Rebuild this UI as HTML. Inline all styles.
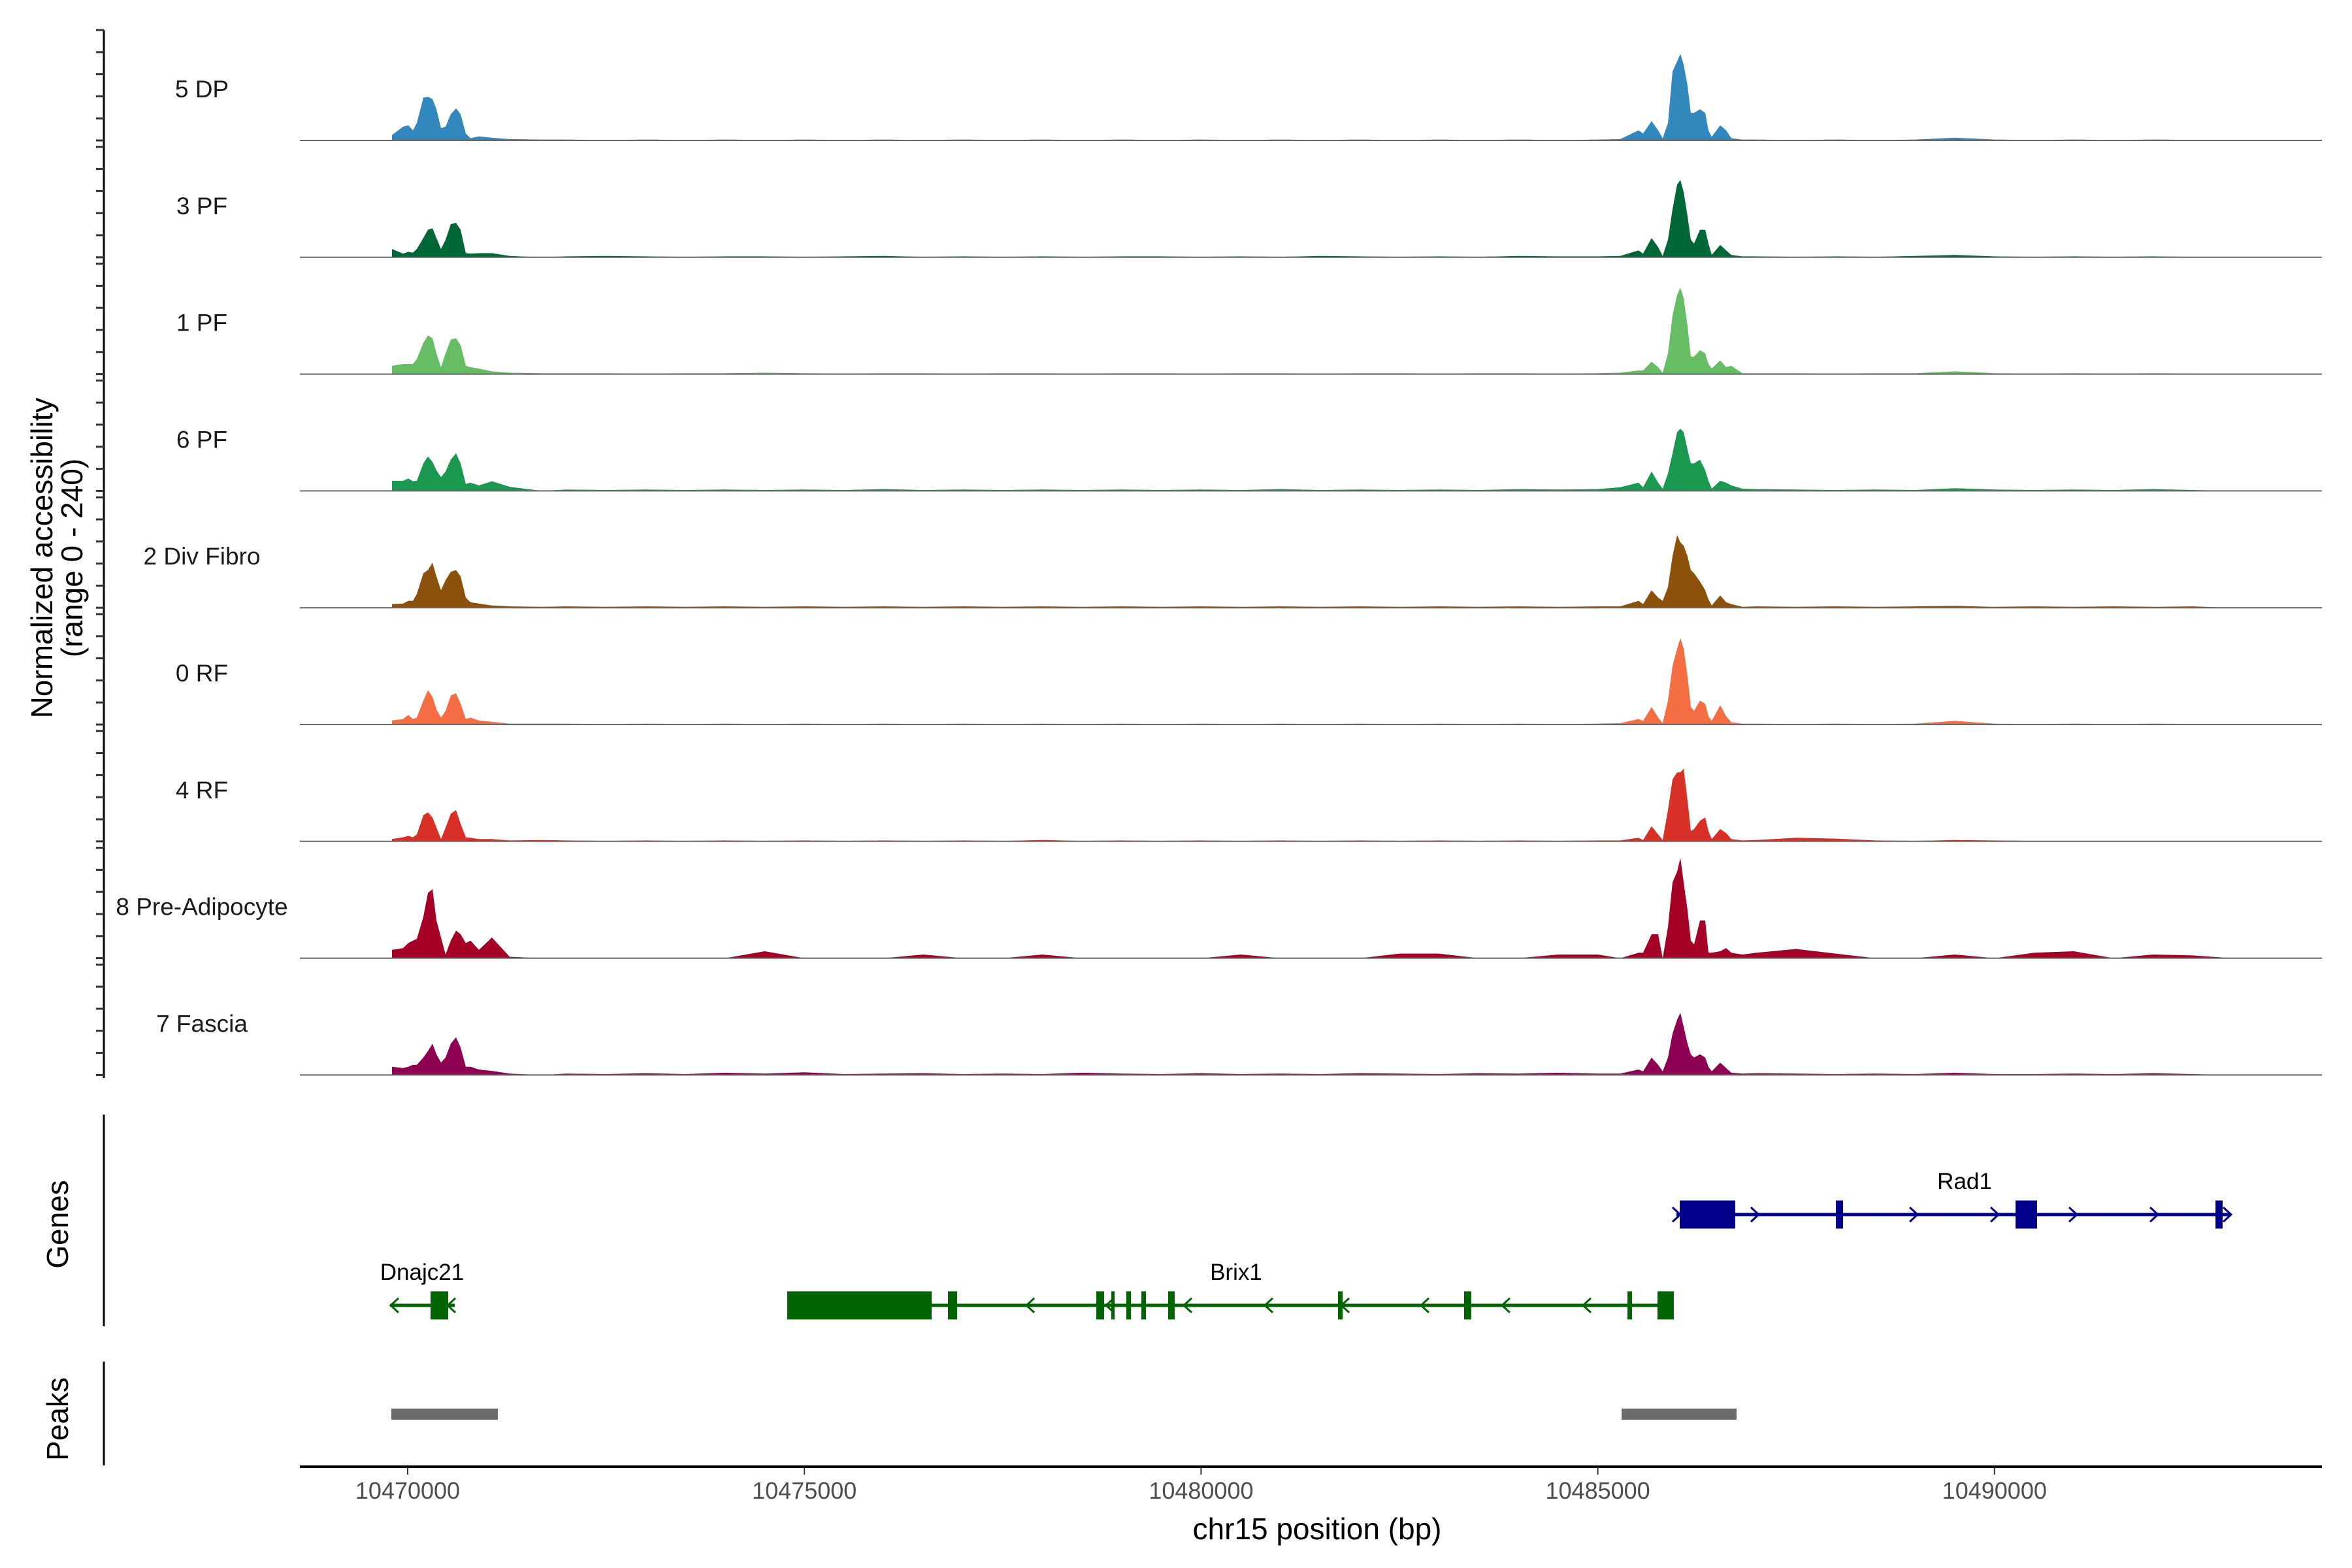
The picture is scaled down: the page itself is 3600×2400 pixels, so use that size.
<!DOCTYPE html>
<html><head><meta charset="utf-8"><style>
html,body{margin:0;padding:0;background:#fff;}
svg{display:block;font-family:"Liberation Sans",sans-serif;}
</style></head><body>
<svg id="chart" width="3600" height="2400" viewBox="0 0 3600 2400" xmlns="http://www.w3.org/2000/svg"></svg>
<script>
const trackNames = ["5 DP","3 PF","1 PF","6 PF","2 Div Fibro","0 RF","4 RF","8 Pre-Adipocyte","7 Fascia"];
const trackColors = ["#3288bd","#006837","#66bd63","#1a9850","#8c510a","#f46d43","#d73027","#a50026","#8e0152"];
const positions = [
10469802,10469942,10470008,10470066,10470115,10470198,10470255,10470313,10470362,10470420,10470478,10470543,10470609,10470667,10470733,10470791,10470898,10471062,10471285,10471696,
10472000,10472500,10473000,10473500,10474000,10474500,10475000,10475500,10476000,10476500,10477000,10477500,10478000,10478500,10479000,10479500,10480000,10480500,10481000,10481500,10482000,10482500,10483000,10483500,10484000,10484500,10485000,
10485283,10485514,10485571,10485678,10485761,10485818,10485884,10485942,10486000,10486041,10486082,10486131,10486173,10486214,10486288,10486354,10486395,10486436,10486543,10486617,10486683,10486823,
10487000,10487500,10488000,10488500,10489000,10489500,10490000,10490500,10491000,10491500,10492000,10492500,10493000];
const mid0 = [2,1,2,1,2,1,2,1,2,1,2,1,2,1,2,1,2,1,2,1,2,1,2,1,2,1,2];
const valsDP = [12,30,33,22,38,93,95,90,68,27,30,57,70,57,15,5,9,6,3,2].concat(mid0,[3,22,15,42,22,5,38,150,172,188,165,120,60,60,68,60,22,8,33,22,5,2],[2,1,2,1,2,6,2,1,2,1,2,1,0]);
const vals3PF = [18,8,12,10,18,42,60,63,42,18,38,72,75,60,9,8,9,9,3,0].concat([2,3,2,1,2,2,1,2,3,1,2,1,2,1,2,2,1,2,1,3,2,1,2,1,3,2,2],[3,15,8,42,22,3,38,105,158,168,142,90,38,30,60,60,30,5,27,15,5,2],[2,1,2,1,3,5,2,1,2,1,2,1,0]);
const vals1PF = [18,22,22,22,33,68,84,78,45,15,45,75,78,63,18,15,12,6,3,2].concat([2,2,1,2,2,3,2,1,2,2,1,2,2,1,2,2,1,2,2,1,2,2,1,2,2,1,2],[3,8,8,27,15,3,45,128,172,188,165,105,38,38,52,45,22,12,30,15,18,2],[2,2,1,2,2,6,2,1,2,1,2,1,0]);
const vals6PF = [22,22,27,21,22,60,75,63,45,30,42,68,82,60,15,18,12,21,9,0].concat([3,2,3,2,3,2,3,2,4,2,3,2,3,2,3,2,3,2,4,2,3,2,3,2,4,3,4],[8,18,8,42,18,5,38,82,128,135,128,90,60,60,68,45,22,5,22,18,12,5],[4,3,2,3,2,6,3,2,3,2,4,2,0]);
const valsDiv = [8,9,15,15,30,75,82,98,68,38,60,78,82,68,22,12,9,5,3,2].concat([3,2,3,2,3,2,3,2,3,2,3,2,3,2,3,2,3,2,3,2,3,2,3,2,3,2,3],[3,15,8,38,22,15,45,112,158,142,135,112,82,75,57,38,18,5,27,12,8,2],[3,2,3,2,3,4,2,3,2,3,2,3,0]);
const vals0RF = [9,12,21,12,15,52,75,60,33,15,30,63,68,45,12,15,9,6,2,2].concat([2,1,2,1,2,1,2,1,2,1,2,1,2,1,2,1,2,1,2,1,2,1,2,1,2,1,2],[3,12,8,38,15,3,52,128,165,188,165,105,38,30,52,45,18,8,42,18,5,2],[2,1,2,1,2,8,2,1,2,1,2,1,0]);
const vals4RF = [5,9,12,9,15,57,63,52,30,5,30,60,68,38,9,8,5,5,2,3].concat([2,1,2,1,2,1,2,1,2,1,2,1,3,1,2,1,2,1,2,1,2,1,2,1,2,1,2],[2,8,3,33,15,3,68,135,150,150,158,90,22,27,45,52,22,5,27,18,5,2],[3,8,6,2,1,3,2,1,1,0,1,0,0]);
const valsPre = [18,22,33,38,42,90,142,150,82,45,8,38,60,52,33,38,18,45,3,0].concat([0,0,0,0,0,15,0,0,0,8,0,0,8,0,0,0,0,8,0,0,0,10,10,0,0,8,8],[0,12,12,52,52,0,68,165,188,218,165,105,38,30,82,82,12,12,15,22,12,8],[12,20,10,0,0,8,0,12,15,0,8,6,0]);
const valsFas = [18,15,18,22,22,38,52,68,45,27,38,68,82,60,18,18,12,9,3,0].concat([3,2,4,2,5,3,6,2,3,4,2,3,2,5,3,2,4,2,3,2,4,3,2,4,3,5,3],[3,12,8,38,22,8,38,90,120,135,105,68,45,38,45,38,18,8,27,15,5,3],[4,3,2,3,2,5,2,2,3,2,4,2,0]);
const trackValues = [valsDP,vals3PF,vals1PF,vals6PF,valsDiv,vals0RF,vals4RF,valsPre,valsFas];
const xTicks = [10470000,10475000,10480000,10485000,10490000];
const xTickLabels = ["10470000","10475000","10480000","10485000","10490000"];
const genes = [
 {name:"Rad1", strand:"+", start:10485991, end:10492974, row:0, labelPos:10489623,
  exons:[[10486033,10486733],[10488001,10488091],[10490265,10490537],[10492785,10492875]],
  arrows:[10485991,10486979,10488981,10490002,10490990,10492011,10492933]},
 {name:"Brix1", strand:"-", start:10474784, end:10485958, row:1, labelPos:10480441,
  exons:[[10474784,10476604],[10476810,10476925],[10478679,10478778],[10478868,10478910],[10479058,10479116],[10479247,10479305],[10479585,10479667],[10481726,10481784],[10483315,10483406],[10485374,10485432],[10485752,10485958]],
  arrows:[10477848,10478852,10479832,10480853,10481817,10482821,10483842,10484863]},
 {name:"Dnajc21", strand:"-", start:10469778, end:10470593, row:1, labelPos:10470181,
  exons:[[10470288,10470511]], arrows:[10469835,10470552]}
];
const peakStarts = [10469794,10485300];
const peakEnds = [10471136,10486749];

const NS="http://www.w3.org/2000/svg";
const svg=document.getElementById('chart');
function el(tag,attrs,parent){const e=document.createElementNS(NS,tag);for(const k in attrs)e.setAttribute(k,attrs[k]);(parent||svg).appendChild(e);return e;}
function xs(bp){return 624+(bp-10470000)*0.12144;}
const base0=215, pitch=178.8, trackH=169, yMax=240;
function ys(v,i){return base0+i*pitch - v/yMax*trackH;}

const yAxis=el('line',{x1:159,y1:46,x2:159,y2:1650,stroke:"#000","stroke-width":3});


for(let i=0;i<trackNames.length;i++){
  const b=base0+i*pitch;
  for(let k=0;k<=5;k++){
    const ty=b-trackH+k*trackH/5;
    const t=el('line',{x1:147,y1:ty,x2:159,y2:ty,stroke:"#333","stroke-width":3});
    
    
  }
  const vals=trackValues[i];
  let d="M"+xs(positions[0]).toFixed(1)+","+b;
  for(let j=0;j<positions.length;j++){d+=" L"+xs(positions[j]).toFixed(1)+","+ys(vals[j],i).toFixed(1);}
  d+=" L"+xs(positions[positions.length-1]).toFixed(1)+","+b+" Z";
  const a=el('path',{d:d,fill:trackColors[i]});
  
  
  const bl=el('line',{x1:459,y1:b,x2:3554,y2:b,stroke:"#666","stroke-width":2});
  
  
  const lab=el('text',{x:309,y:b-66,"text-anchor":"middle","font-size":37,fill:"#1a1a1a"});
  lab.textContent=trackNames[i];
  
  
}
const yt=el('text',{transform:"translate(80,854) rotate(-90)","text-anchor":"middle","font-size":46,fill:"#000"});


const ts1=el('tspan',{x:0,dy:0},yt);ts1.textContent="Normalized accessibility";
const ts2=el('tspan',{x:0,dy:46},yt);ts2.textContent="(range 0 - 240)";

const gl=el('line',{x1:159,y1:1706,x2:159,y2:2030,stroke:"#000","stroke-width":3});


const gt=el('text',{transform:"translate(104,1874) rotate(-90)","text-anchor":"middle","font-size":46,fill:"#000"});
gt.textContent="Genes";


const rowY=[1859,1998];
genes.forEach(g=>{
  const col=g.strand==="+"?"#00008b":"#006400";
  const y=rowY[g.row];
  const grp=el('g',{});
  
  
  el('line',{x1:xs(g.start),y1:y,x2:xs(g.end),y2:y,stroke:col,"stroke-width":5},grp);
  g.exons.forEach(ex=>{el('rect',{x:xs(ex[0]),y:y-21.5,width:Math.max(xs(ex[1])-xs(ex[0]),4),height:43,fill:col},grp);});
  g.arrows.forEach(p=>{const x=xs(p);const dx=g.strand==="+"?-6:6;
    el('polyline',{points:(x+dx)+","+(y-11)+" "+(x-dx)+","+y+" "+(x+dx)+","+(y+11),fill:"none",stroke:col,"stroke-width":3},grp);});
  const t=el('text',{x:xs(g.labelPos),y:y-39,"text-anchor":"middle","font-size":35,fill:"#000"},grp);
  t.textContent=g.name;
});

const pl=el('line',{x1:159,y1:2084,x2:159,y2:2243,stroke:"#000","stroke-width":3});


const pt=el('text',{transform:"translate(104,2172) rotate(-90)","text-anchor":"middle","font-size":46,fill:"#000"});
pt.textContent="Peaks";


for(let i=0;i<peakStarts.length;i++){
  const r=el('rect',{x:xs(peakStarts[i]),y:2156,width:xs(peakEnds[i])-xs(peakStarts[i]),height:17,fill:"#6b6b6b"});
  
  
}

const xa=el('line',{x1:459,y1:2245,x2:3554,y2:2245,stroke:"#000","stroke-width":4});


xTicks.forEach((t,i)=>{
  const tk=el('line',{x1:xs(t),y1:2245,x2:xs(t),y2:2257,stroke:"#333","stroke-width":2});
  
  
  const lb=el('text',{x:xs(t),y:2294,"text-anchor":"middle","font-size":36,fill:"#4d4d4d"});
  lb.textContent=xTickLabels[i];
  
  
});
const xt=el('text',{x:2016,y:2356,"text-anchor":"middle","font-size":46,fill:"#000"});
xt.textContent="chr15 position (bp)";


</script>
</body></html>
